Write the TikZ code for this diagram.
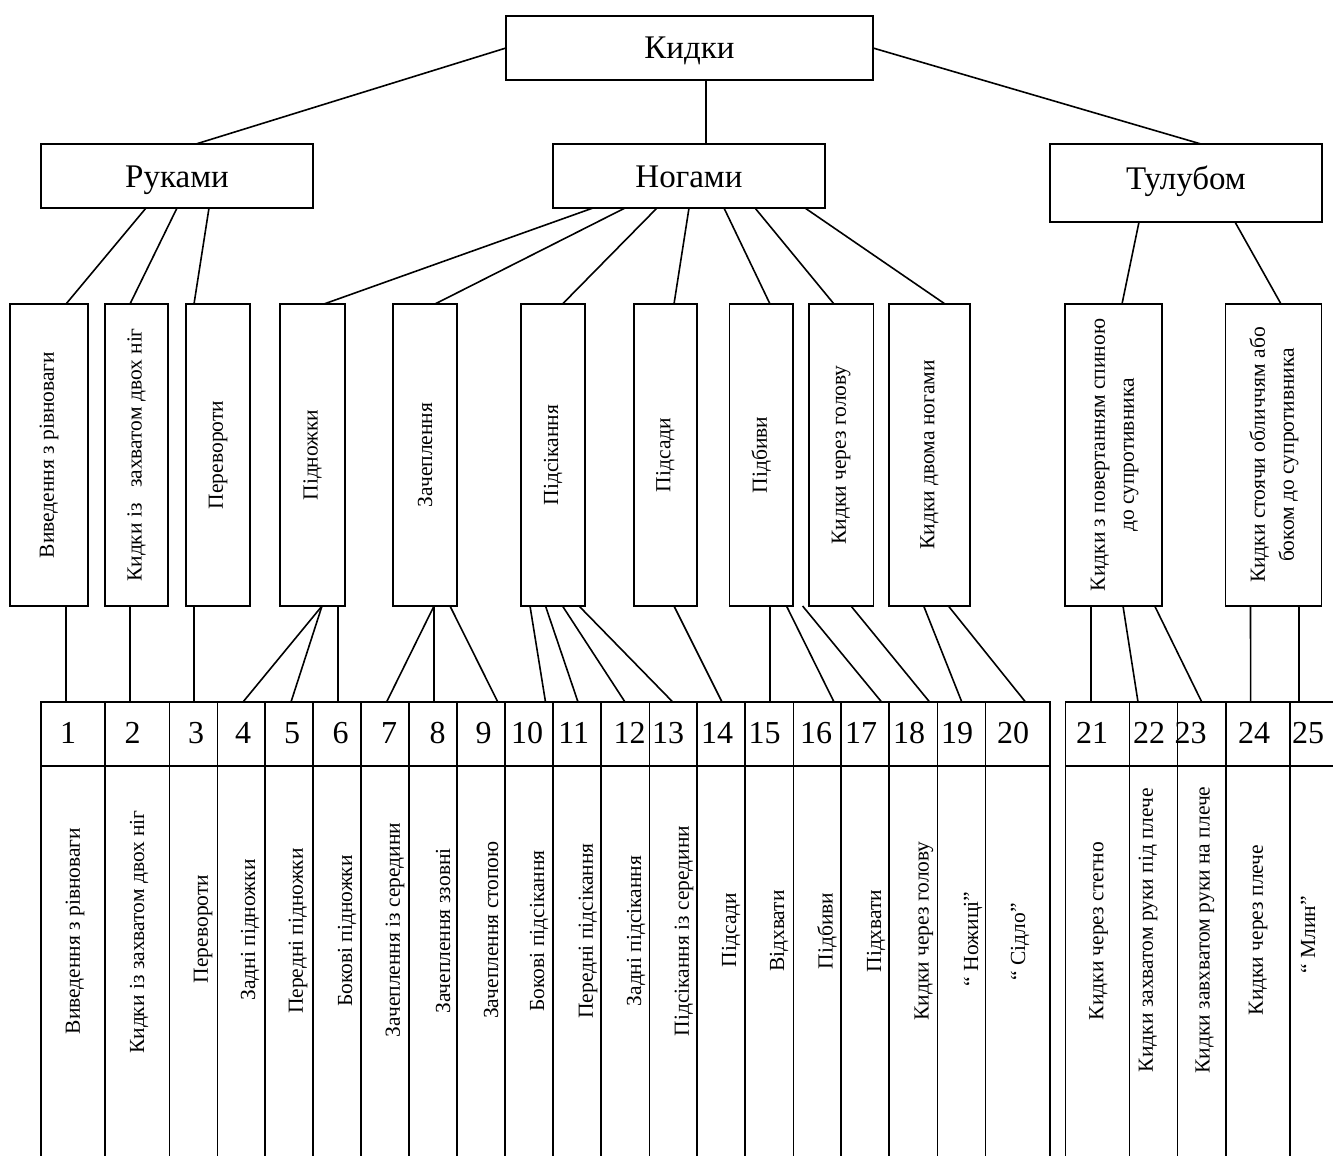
\documentclass[tikz,border=0pt]{standalone}
\usepackage{fontspec}
\setmainfont{Liberation Serif}
\begin{document}
\begin{tikzpicture}[x=1pt,y=-1pt,
  frame/.style={draw, line width=1.8pt, inner sep=0pt, outer sep=0pt},
  head/.style={frame, minimum height=64, text height=23pt, text depth=1pt, font=\fontsize{33}{38}\selectfont},
  vbox/.style={frame, minimum height=302, font=\fontsize{21.5}{29}\selectfont},
  cell/.style={frame, minimum height=64},
  col/.style={frame, minimum height=434},
  num/.style={inner sep=0pt, font=\fontsize{32}{36}\selectfont},
  coltext/.style={inner sep=0pt, font=\fontsize{21.5}{29}\selectfont},
  link/.style={line width=1.6pt}]
\useasboundingbox (0,0) rectangle (1333,1156);
\clip (0,0) rectangle (1333,1156);

% top levels
\node[head, minimum width=367] (kid) at (689.5,48) {Кидки};
\node[head, minimum width=272] (ruk) at (177,176) {Руками};
\node[head, minimum width=272] (nog) at (689,176) {Ногами};
\node[head, minimum width=272, minimum height=78, text depth=11pt] (tul) at (1186,183) {Тулубом};

% groups
\foreach \n/\cx/\w/\t in {
  v1/49/78/{Виведення з рівноваги},
  v2/136.5/63/{Кидки із\hspace{10pt} захватом двох ніг},
  v3/218/64/{Перевороти},
  v4/312.5/65/{Підножки},
  v5/425/64/{Зачеплення},
  v6/553/64/{Підсікання},
  v7/665.3/63.4/{Підсади},
  v8/761.25/63.5/{Підбиви},
  v9/841.25/64.5/{Кидки через голову},
  v10/929.5/81/{Кидки двома ногами}}
  \node[vbox, minimum width=\w] (\n) at (\cx,455) {\rotatebox{90}{\t}};
\node[vbox, minimum width=97] (v11) at (1113.5,455)
  {\rotatebox{90}{\begin{tabular}{@{}c@{}}Кидки з повертанням спиною\\до супротивника\end{tabular}}};
\node[vbox, minimum width=96] (v12) at (1273.5,455)
  {\rotatebox{90}{\begin{tabular}{@{}c@{}}Кидки стоячи обличчям або\\боком до супротивника\end{tabular}}};

% table of throws
\foreach \i/\l/\r/\nx/\tx/\ty/\t in {
  1/41/105/68/75/931/{Виведення з рівноваги},
  2/105/169.5/132.6/139/932/{Кидки із захватом двох ніг},
  3/169.5/217.5/196/203/929/{Перевороти},
  4/217.5/265/243/250/930/{Задні підножки},
  5/265/313/292/298/931/{Передні підножки},
  6/313/361/340.6/347/931/{Бокові підножки},
  7/361/409/389/395/930/{Зачеплення із середини},
  8/409/457/437.5/443/931/{Зачеплення ззовні},
  9/457/505/483.5/491/930/{Зачеплення стопою},
  10/505/553/527/539/931/{Бокові підсікання},
  11/553/601/573.7/588/931/{Передні підсікання},
  12/601/649.5/629.5/636/931/{Задні підсікання},
  13/649.5/697/668/684/931/{Підсікання із середини},
  14/697/745/717/731/930/{Підсади},
  15/745/793.5/764.5/779/931/{Відхвати},
  16/793.5/841/816/827/931/{Підбиви},
  17/841/889/861/876/931/{Підхвати},
  18/889/937.5/909/924/931/{Кидки через голову},
  19/937.5/985.5/957/973/939/{“ Ножиці”},
  20/985.5/1050/1013/1020/942/{“ Сідло”},
  21/1065.5/1129.5/1092/1098.6/931/{Кидки через стегно},
  22/1129.5/1177.5/1149/1148/930/{Кидки захватом руки під плече},
  23/1177.5/1226/1190.5/1205/930/{Кидки завхватом руки на плече},
  24/1226/1290/1254/1258/930/{Кидки через плече},
  25/1290/1360/1308/1308/935/{“ Млин”}} {
  \node[cell, minimum width={\r-\l}] (c\i) at ({(\l+\r)/2},734) {};
  \node[num] (n\i) at (\nx,733) {\i};
  \node[col, minimum width={\r-\l}] (t\i) at ({(\l+\r)/2},983) {};
  \node[coltext] (s\i) at (\tx,\ty) {\rotatebox{90}{\t}};
}

% connectors between levels
\draw[link] (kid.west) -- ([xshift=19pt]ruk.north);
\draw[link] ([xshift=16.5pt]kid.south) -- ([xshift=17pt]nog.north);
\draw[link] (kid.east) -- ([xshift=15pt]tul.north);

\draw[link] ([xshift=-31pt]ruk.south) -- ([xshift=17pt]v1.north);
\draw[link] (ruk.south) -- ([xshift=-6.5pt]v2.north);
\draw[link] ([xshift=32pt]ruk.south) -- ([xshift=-24pt]v3.north);

\draw[link] ([xshift=-96pt]nog.south) -- ([xshift=11.5pt]v4.north);
\draw[link] ([xshift=-64pt]nog.south) -- ([xshift=10pt]v5.north);
\draw[link] ([xshift=-32pt]nog.south) -- ([xshift=9.5pt]v6.north);
\draw[link] (nog.south) -- ([xshift=8.7pt]v7.north);
\draw[link] ([xshift=35pt]nog.south) -- ([xshift=8.75pt]v8.north);
\draw[link] ([xshift=66pt]nog.south) -- ([xshift=-7.25pt]v9.north);
\draw[link] ([xshift=116pt]nog.south) -- ([xshift=15.5pt]v10.north);

\draw[link] ([xshift=-47pt]tul.south) -- ([xshift=8.5pt]v11.north);
\draw[link] ([xshift=49pt]tul.south) -- ([xshift=7.5pt]v12.north);

% connectors from groups to throws
\draw[link] ([xshift=17pt]v1.south) -- ([xshift=-7pt]c1.north);
\draw[link] ([xshift=-6.5pt]v2.south) -- ([xshift=-7.25pt]c2.north);
\draw[link] ([xshift=-24pt]v3.south) -- ([xshift=0.5pt]c3.north);

\draw[link] ([xshift=9.5pt]v4.south) -- ([xshift=1.75pt]c4.north);
\draw[link] ([xshift=9.5pt]v4.south) -- ([xshift=2pt]c5.north);
\draw[link] ([xshift=25.5pt]v4.south) -- ([xshift=1pt]c6.north);

\draw[link] ([xshift=9pt]v5.south) -- ([xshift=1.6pt]c7.north);
\draw[link] ([xshift=9pt]v5.south) -- ([xshift=1pt]c8.north);
\draw[link] ([xshift=25pt]v5.south) -- ([xshift=16.8pt]c9.north);

\draw[link] ([xshift=-23pt]v6.south) -- ([xshift=16.5pt]c10.north);
\draw[link] ([xshift=-7.5pt]v6.south) -- ([xshift=1pt]c11.north);
\draw[link] ([xshift=9.5pt]v6.south) -- ([xshift=-0.25pt]c12.north);
\draw[link] ([xshift=26pt]v6.south) -- ([xshift=-0.5pt]c13.north);

\draw[link] ([xshift=8.7pt]v7.south) -- ([xshift=1pt]c14.north);

\draw[link] ([xshift=8.75pt]v8.south) -- ([xshift=0.75pt]c15.north);
\draw[link] ([xshift=25.25pt]v8.south) -- ([xshift=16.75pt]c16.north);
\draw[link] ([xshift=41.35pt]v8.south) -- ([xshift=16.6pt]c17.north);

\draw[link] ([xshift=9.75pt]v9.south) -- ([xshift=16.35pt]c18.north);

\draw[link] ([xshift=-5.8pt]v10.south) -- ([xshift=0.3pt]c19.north);
\draw[link] ([xshift=18.9pt]v10.south) -- ([xshift=7.75pt]c20.north);

\draw[link] ([xshift=-22.5pt]v11.south) -- ([xshift=-6.5pt]c21.north);
\draw[link] ([xshift=9.5pt]v11.south) -- ([xshift=-15.5pt]c22.north);
\draw[link] ([xshift=41.2pt]v11.south) -- (c23.north);

\draw[link] ([xshift=-23pt]v12.south) -- ([xshift=-7.4pt]c24.north);
\draw[link] ([xshift=25.5pt]v12.south) -- ([xshift=-26pt]c25.north);
\end{tikzpicture}
\end{document}
